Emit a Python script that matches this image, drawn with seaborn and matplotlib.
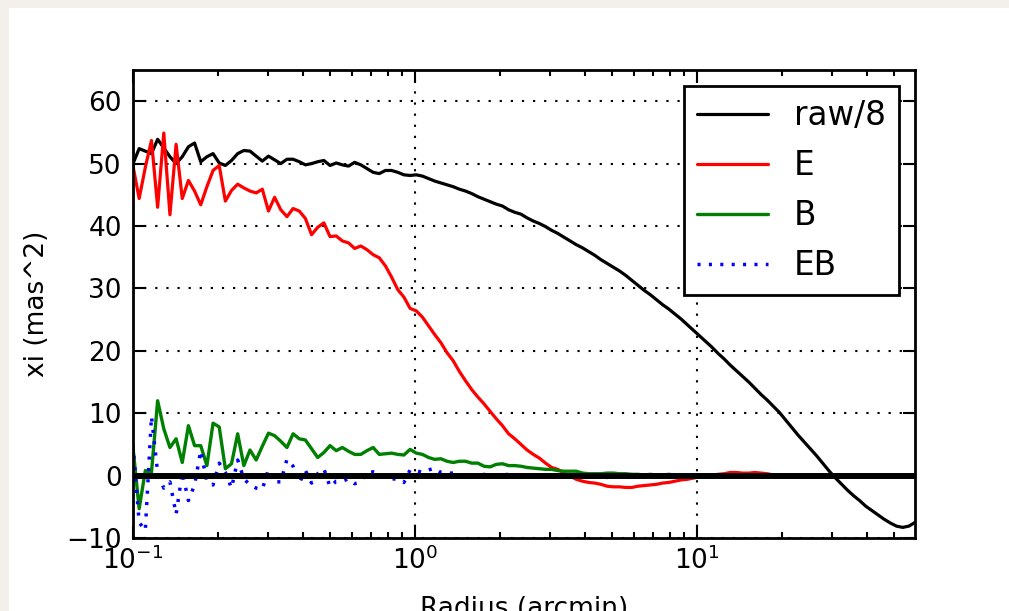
import numpy as np
import pandas as pd
import matplotlib
matplotlib.use("Agg")
import matplotlib.pyplot as plt
from matplotlib.patches import Rectangle
import seaborn as sns

# Logarithmic radial bins (arcmin)
r_min, r_max, n_bins = 0.1, 59.3, 128
radius = np.geomspace(r_min, r_max, n_bins)

# Correlation functions (mas^2)
raw_over_8 = [
    50.0, 52.4, 52.0, 51.6, 53.9, 52.5, 51.1, 50.0, 51.1, 52.7,
    53.3, 50.3, 51.1, 51.6, 50.1, 49.7, 50.5, 51.6, 52.1, 52.0,
    51.2, 50.4, 51.2, 50.6, 50.0, 50.7, 50.7, 50.3, 49.8, 50.0,
    50.3, 50.5, 49.7, 50.1, 49.8, 49.6, 50.2, 49.8, 49.2, 48.6,
    48.4, 48.9, 48.9, 48.6, 48.2, 48.1, 48.2, 48.0, 47.6, 47.2,
    46.9, 46.6, 46.3, 45.9, 45.6, 45.2, 44.7, 44.3, 43.9, 43.5,
    43.2, 42.6, 42.2, 41.9, 41.3, 40.8, 40.4, 39.9, 39.3, 38.8,
    38.2, 37.6, 37.0, 36.5, 35.9, 35.3, 34.6, 34.0, 33.4, 32.8,
    32.1, 31.3, 30.5, 29.7, 29.0, 28.2, 27.4, 26.7, 25.9, 25.1,
    24.2, 23.3, 22.4, 21.5, 20.6, 19.6, 18.7, 17.7, 16.8, 15.9,
    15.0, 14.0, 13.0, 12.1, 11.1, 10.1, 8.9, 7.7, 6.5, 5.4,
    4.3, 3.2, 2.0, 0.8, -0.3, -1.3, -2.3, -3.2, -4.0, -4.9,
    -5.6, -6.3, -7.0, -7.6, -8.1, -8.3, -8.1, -7.5,
]

xi_e = [
    49.6, 44.4, 49.4, 53.7, 43.0, 54.9, 41.8, 53.1, 44.4, 47.3,
    45.6, 43.4, 46.3, 48.9, 49.7, 44.0, 45.7, 46.7, 46.1, 45.6,
    45.3, 45.9, 42.4, 44.6, 42.6, 41.5, 42.8, 42.4, 41.2, 38.6,
    39.8, 40.5, 38.3, 38.4, 37.6, 37.3, 36.4, 36.8, 36.2, 35.4,
    34.9, 33.6, 31.8, 29.8, 28.6, 26.8, 26.4, 25.4, 24.0, 22.6,
    21.3, 19.7, 18.4, 16.7, 15.2, 13.8, 12.6, 11.5, 10.3, 9.1,
    8.0, 6.7, 5.9, 5.0, 4.1, 3.4, 2.8, 2.0, 1.3, 1.0,
    0.4, -0.1, -0.6, -0.9, -1.1, -1.2, -1.4, -1.7, -1.8, -1.8,
    -1.9, -1.9, -1.7, -1.6, -1.5, -1.4, -1.2, -1.1, -0.9, -0.7,
    -0.6, -0.4, -0.2, 0.0, 0.1, 0.2, 0.3, 0.5, 0.5, 0.4,
    0.4, 0.5, 0.4, 0.3, 0.1, 0.0, -0.1, 0.0, 0.1, 0.0,
    -0.1, 0.1, 0.0, -0.1, 0.0, 0.1, 0.0, -0.1, 0.0, 0.1,
    0.0, -0.1, 0.0, 0.1, 0.0, -0.1, 0.0, 0.1,
]

xi_b = [
    4.5, -5.3, 0.8, 0.5, 12.0, 7.5, 4.5, 5.9, 2.1, 8.0,
    4.8, 4.8, 1.6, 8.4, 7.8, 1.1, 1.9, 6.7, 1.6, 4.1,
    2.5, 4.7, 6.8, 6.4, 5.5, 4.5, 6.7, 5.9, 5.7, 4.3,
    2.9, 3.7, 4.8, 4.0, 4.5, 3.9, 3.4, 3.4, 4.0, 4.5,
    3.4, 3.5, 3.6, 3.4, 3.3, 4.2, 3.6, 3.4, 2.9, 2.6,
    2.7, 2.3, 2.1, 2.3, 2.3, 2.0, 2.0, 1.5, 1.4, 1.8,
    1.9, 1.6, 1.6, 1.5, 1.3, 1.2, 1.1, 1.0, 1.0, 0.8,
    0.7, 0.7, 0.7, 0.4, 0.3, 0.3, 0.3, 0.4, 0.4, 0.3,
    0.3, 0.2, 0.2, 0.1, 0.2, 0.1, 0.1, 0.2, 0.1, 0.0,
    0.1, 0.1, 0.0, 0.1, 0.0, -0.1, 0.0, 0.1, 0.0, 0.0,
    -0.1, 0.0, 0.1, 0.0, -0.1, 0.0, 0.0, 0.1, 0.0, -0.1,
    0.0, 0.1, 0.0, 0.0, -0.1, 0.0, 0.1, 0.0, -0.1, 0.0,
    0.1, 0.0, 0.0, -0.1, 0.0, 0.1, 0.0, 0.0,
]

xi_eb = [
    5.0, -7.5, -8.8, 9.5, 0.5, -2.0, -1.0, -6.2, 0.5, -4.0,
    -1.5, 4.0, -1.0, -1.5, 2.0, 0.5, -2.0, 2.5, -0.5, -1.5,
    -2.0, -2.2, 1.0, -1.0, -1.0, 2.6, 1.5, -1.2, 0.8, -1.2,
    0.3, 1.1, -1.8, -0.9, -0.9, -0.5, -1.3, -1.0, 0.5, 0.6,
    0.3, -0.2, -0.5, -0.6, -1.1, 0.9, 0.8, 0.5, 0.9, 1.2,
    0.5, 0.4, 0.4, 0.2, -0.1, 0.1, -0.2, 0.2, 0.0, -0.1,
    0.1, 0.2, -0.1, 0.0, 0.1, -0.2, 0.1, 0.0, -0.1, 0.1,
    0.0, 0.2, -0.1, 0.0, 0.1, -0.1, 0.0, -0.3, 0.1, 0.0,
    -0.1, 0.1, 0.0, -0.1, 0.1, 0.0, 0.0, -0.1, 0.1, 0.0,
    -0.1, 0.0, 0.1, 0.0, -0.1, 0.0, 0.1, 0.0, -0.1, 0.0,
    0.1, 0.0, -0.1, 0.0, 0.1, 0.0, -0.1, 0.0, 0.1, 0.0,
    -0.1, 0.0, 0.1, 0.0, -0.1, 0.0, 0.1, 0.0, -0.1, 0.0,
    0.1, 0.0, -0.1, 0.0, 0.1, 0.0, -0.1, 0.0,
]

series_labels = ["raw/8", "E", "B", "EB"]
series_colors = ["black", "red", "#008000", "blue"]

sns.set_theme(style="white")
plt.rcParams["font.family"] = ["DejaVu Sans"]
plt.rcParams["lines.scale_dashes"] = False
plt.rcParams["axes.axisbelow"] = "line"
for key in ["text.color", "axes.labelcolor", "xtick.color", "ytick.color"]:
    plt.rcParams[key] = "black"

W, H = 1009, 611
fig = plt.figure(figsize=(W / 100, H / 100), dpi=100)
fig.patch.set_facecolor("#f3f0eb")
fig.add_artist(Rectangle((9 / W, 0), 1 - 9 / W, 1 - 8 / H,
                         transform=fig.transFigure, facecolor="white",
                         edgecolor="none", zorder=0))

ax = fig.add_axes([133 / W, 73 / H, 782 / W, 468 / H])
ax.set_facecolor("white")

line_styles = ["-", "-", "-", (0, (2.2, 6.0))]
line_widths = [2.3, 2.3, 2.4, 2.5]
for values, label, color, ls, lw in zip(
        [raw_over_8, xi_e, xi_b, xi_eb], series_labels, series_colors,
        line_styles, line_widths):
    df = pd.DataFrame({"radius": radius, "xi": values})
    sns.lineplot(data=df, x="radius", y="xi", ax=ax, color=color,
                 linestyle=ls, linewidth=lw, label=label,
                 estimator=None, sort=False, legend=False)

# zero reference line
ax.axhline(0, color="black", linewidth=4.3, zorder=4)

ax.set_xscale("log")
ax.set_xlim(r_min, r_max)
ax.set_ylim(-10, 65)
ax.set_yticks(np.arange(-10, 61, 10))

ax.grid(True, which="major", color="black", linestyle=(0, (1.6, 6.4)),
        linewidth=1.5)
ax.grid(False, which="minor")

for side in ["left", "right", "top", "bottom"]:
    ax.spines[side].set_visible(True)
    ax.spines[side].set_color("black")
    ax.spines[side].set_linewidth(2.0)

ax.tick_params(which="both", direction="in", top=True, right=True,
               bottom=True, left=True, colors="black", width=1.5)
ax.tick_params(which="major", length=9)
ax.tick_params(which="minor", length=4.5)
ax.tick_params(axis="y", which="major", labelsize=19, pad=8)
ax.tick_params(axis="x", which="major", labelsize=19, pad=6)
ax.tick_params(axis="y", which="minor", left=False, right=False)

ax.set_ylabel("xi (mas^2)", fontsize=19, color="black")
ax.yaxis.set_label_coords((50 - 133) / 782, 0.5)
ax.set_xlabel("Radius (arcmin)", fontsize=19, color="black")
ax.xaxis.set_label_coords(0.5, -58 / 468)
ax.xaxis.label.set_va("top")

leg = ax.legend(loc="upper right", fontsize=23.5, frameon=True,
                fancybox=False, edgecolor="black", framealpha=1,
                borderpad=0.4, labelspacing=0.52, handlelength=2.15,
                handletextpad=0.8, borderaxespad=0.5)
leg.get_frame().set_linewidth(2.0)
leg.set_zorder(6)
for text in leg.get_texts():
    text.set_color("black")

fig.savefig("out.png", dpi=100, facecolor=fig.get_facecolor())
